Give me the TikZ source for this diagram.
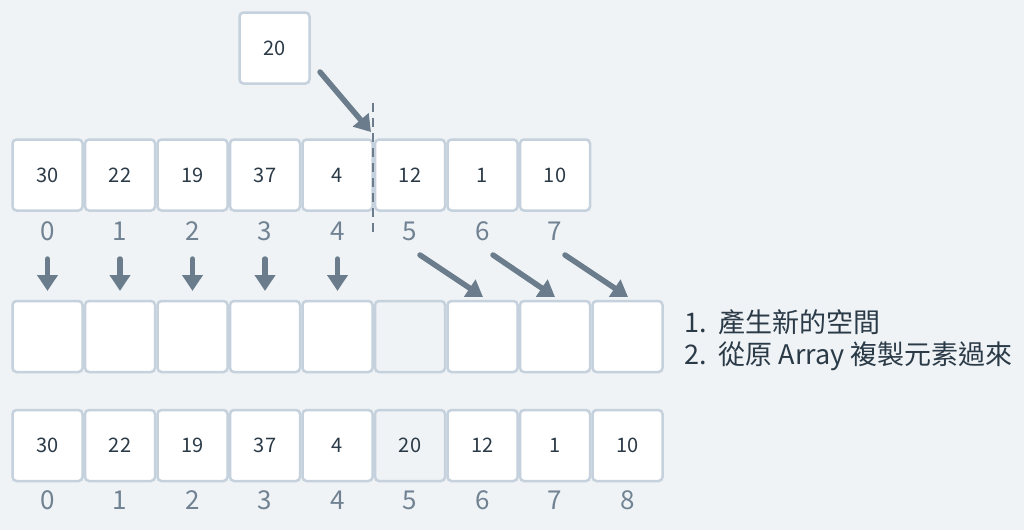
\documentclass[tikz,border=0pt]{standalone}
\usepackage{fontspec}
\setmainfont{Noto Sans CJK TC}
\usetikzlibrary{arrows.meta}
\definecolor{bg}{HTML}{EFF3F6}
\definecolor{bord}{HTML}{C5D1DC}
\definecolor{arr}{HTML}{6B7D8C}
\definecolor{txt}{HTML}{2B3A47}
\definecolor{idx}{HTML}{718393}
\begin{document}
\begin{tikzpicture}[x=1pt,y=-1pt,
  cell/.style={draw=bord,line width=2.5pt,fill=white,rounded corners=4pt,minimum width=70pt,minimum height=71pt,inner sep=0pt,text=txt,font=\fontsize{20}{22}\selectfont},
  emptycell/.style={cell,fill=bg},
  idxlabel/.style={text=idx,font=\fontsize{26}{28}\selectfont,inner sep=0pt},
  arrow/.style={draw=arr,line width=5.5pt,line cap=round,-{Triangle[width=20pt,length=16pt]}},
  note/.style={text=txt,font=\fontsize{27}{30}\selectfont,anchor=west,inner sep=0pt}]
\fill[bg] (0,0) rectangle (1024,530);
\useasboundingbox (0,0) rectangle (1024,530);
% new element
\node[cell] (new) at (274.5,48) {20};
% top row
\foreach \v [count=\i from 0] in {30,22,19,37,4,12,1,10}{
  \node[cell] (t\i) at ({47.5+72.5*\i},175) {\v};
  \node[idxlabel] (ti\i) at ({47.5+72.5*\i},231) {\i};
}
% middle row
\foreach \i in {0,...,8}{
  \ifnum\i=5
    \node[emptycell] (m\i) at ({47.5+72.5*\i},336.5) {};
  \else
    \node[cell] (m\i) at ({47.5+72.5*\i},336.5) {};
  \fi
}
% bottom row
\foreach \v [count=\i from 0] in {30,22,19,37,4,20,12,1,10}{
  \ifnum\i=5
    \node[emptycell] (b\i) at ({47.5+72.5*\i},445.5) {\v};
  \else
    \node[cell] (b\i) at ({47.5+72.5*\i},445.5) {\v};
  \fi
  \node[idxlabel] (bi\i) at ({47.5+72.5*\i},500) {\i};
}
% dashed insertion line
\coordinate (dtop) at (373,103);
\coordinate (dbot) at (373,234);
\draw[arr,line width=2.5pt,dash pattern=on 9pt off 6pt] (dtop) -- (dbot);
% arrow from new element
\coordinate (ns) at (320,72);
\coordinate (ne) at (371,132);
\draw[arrow] (ns) -- (ne);
% down arrows
\foreach \i in {0,...,4}{
  \coordinate (ds\i) at ({47.5+72.5*\i},259);
  \coordinate (de\i) at ({47.5+72.5*\i},291);
  \draw[arrow] (ds\i) -- (de\i);
}
% shifted arrows
\coordinate (s5) at (420,255); \coordinate (e5) at (483,297);
\coordinate (s6) at (493,255); \coordinate (e6) at (555,297);
\coordinate (s7) at (565,255); \coordinate (e7) at (628,297);
\draw[arrow] (s5) -- (e5);
\draw[arrow] (s6) -- (e6);
\draw[arrow] (s7) -- (e7);
% notes
\node[note] (n1) at (684,322) {1.\ \ 產生新的空間};
\node[note] (n2) at (684,356) {2.\ \ 從原 Array 複製元素過來};
\end{tikzpicture}
\end{document}
